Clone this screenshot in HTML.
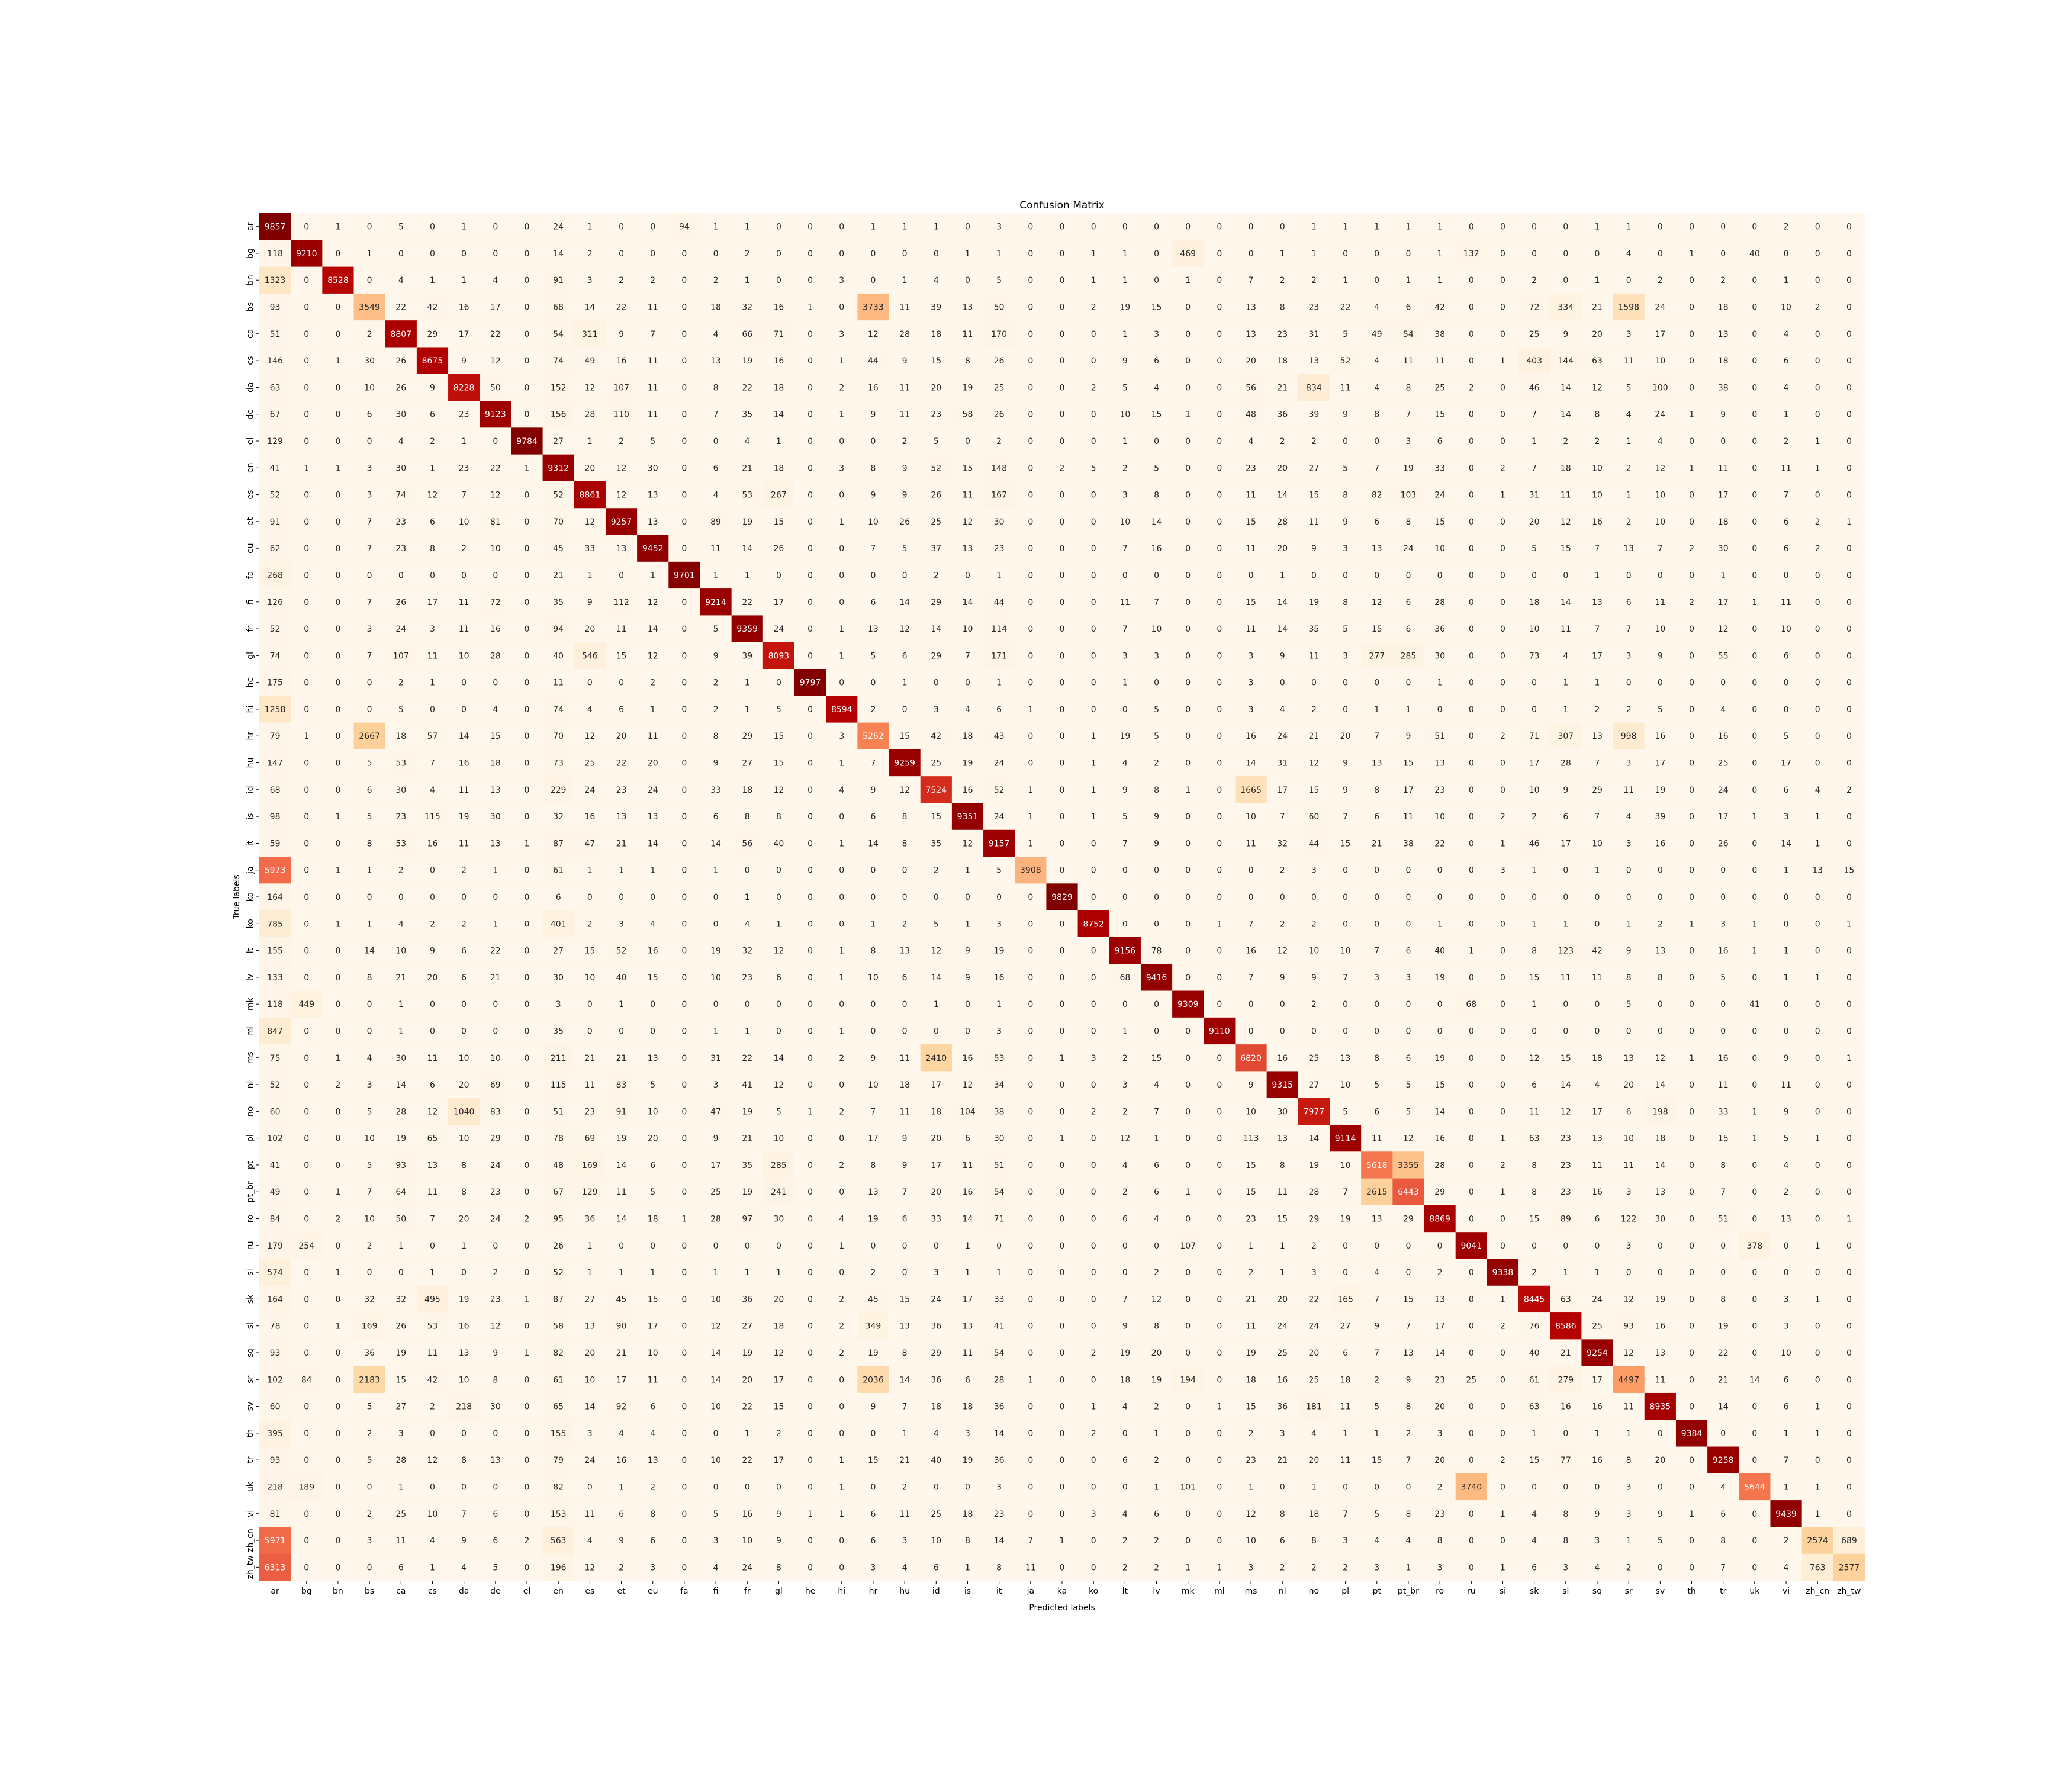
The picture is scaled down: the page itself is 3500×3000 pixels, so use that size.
<!DOCTYPE html>
<html><head><meta charset="utf-8"><style>
html,body{margin:0;padding:0;background:#fff;}
svg{display:block;font-family:"DejaVu Sans","Liberation Sans",sans-serif;}
</style></head><body>
<svg id="chart" width="3500" height="3000" viewBox="0 0 3500 3000" xmlns="http://www.w3.org/2000/svg">
<rect width="3500" height="3000" fill="#fff"/>
<text x="1794" y="352" font-size="17" text-anchor="middle" fill="#000">Confusion Matrix</text>
<text x="1794" y="2720" font-size="14" text-anchor="middle" fill="#000">Predicted labels</text>
<text x="0" y="0" font-size="14" text-anchor="middle" fill="#000" transform="translate(404,1515) rotate(-90)">True labels</text>
<g id="cells"></g><g id="ticks"></g>
</svg>
<script>
const labels=["ar","bg","bn","bs","ca","cs","da","de","el","en","es","et","eu","fa","fi","fr","gl","he","hi","hr","hu","id","is","it","ja","ka","ko","lt","lv","mk","ml","ms","nl","no","pl","pt","pt_br","ro","ru","si","sk","sl","sq","sr","sv","th","tr","uk","vi","zh_cn","zh_tw"];
const rowAr=[9857,0,1,0,5,0,1,0,0,24,1,0,0,94,1,1,0,0,0,1,1,1,0,3,0,0,0,0,0,0,0,0,0,1,1,1,1,1,0,0,0,0,1,1,0,0,0,0,2,0,0];
const rowBg=[118,9210,0,1,0,0,0,0,0,14,2,0,0,0,0,2,0,0,0,0,0,0,1,1,0,0,1,1,0,469,0,0,1,1,0,0,0,1,132,0,0,0,0,4,0,1,0,40,0,0,0];
const rowBn=[1323,0,8528,0,4,1,1,4,0,91,3,2,2,0,2,1,0,0,3,0,1,4,0,5,0,0,1,1,0,1,0,7,2,2,1,0,1,1,0,0,2,0,1,0,2,0,2,0,1,0,0];
const rowBs=[93,0,0,3549,22,42,16,17,0,68,14,22,11,0,18,32,16,1,0,3733,11,39,13,50,0,0,2,19,15,0,0,13,8,23,22,4,6,42,0,0,72,334,21,1598,24,0,18,0,10,2,0];
const rowCa=[51,0,0,2,8807,29,17,22,0,54,311,9,7,0,4,66,71,0,3,12,28,18,11,170,0,0,0,1,3,0,0,13,23,31,5,49,54,38,0,0,25,9,20,3,17,0,13,0,4,0,0];
const rowCs=[146,0,1,30,26,8675,9,12,0,74,49,16,11,0,13,19,16,0,1,44,9,15,8,26,0,0,0,9,6,0,0,20,18,13,52,4,11,11,0,1,403,144,63,11,10,0,18,0,6,0,0];
const rowDa=[63,0,0,10,26,9,8228,50,0,152,12,107,11,0,8,22,18,0,2,16,11,20,19,25,0,0,2,5,4,0,0,56,21,834,11,4,8,25,2,0,46,14,12,5,100,0,38,0,4,0,0];
const rowDe=[67,0,0,6,30,6,23,9123,0,156,28,110,11,0,7,35,14,0,1,9,11,23,58,26,0,0,0,10,15,1,0,48,36,39,9,8,7,15,0,0,7,14,8,4,24,1,9,0,1,0,0];
const rowEl=[129,0,0,0,4,2,1,0,9784,27,1,2,5,0,0,4,1,0,0,0,2,5,0,2,0,0,0,1,0,0,0,4,2,2,0,0,3,6,0,0,1,2,2,1,4,0,0,0,2,1,0];
const rowEn=[41,1,1,3,30,1,23,22,1,9312,20,12,30,0,6,21,18,0,3,8,9,52,15,148,0,2,5,2,5,0,0,23,20,27,5,7,19,33,0,2,7,18,10,2,12,1,11,0,11,1,0];
const rowEs=[52,0,0,3,74,12,7,12,0,52,8861,12,13,0,4,53,267,0,0,9,9,26,11,167,0,0,0,3,8,0,0,11,14,15,8,82,103,24,0,1,31,11,10,1,10,0,17,0,7,0,0];
const rowEt=[91,0,0,7,23,6,10,81,0,70,12,9257,13,0,89,19,15,0,1,10,26,25,12,30,0,0,0,10,14,0,0,15,28,11,9,6,8,15,0,0,20,12,16,2,10,0,18,0,6,2,1];
const rowEu=[62,0,0,7,23,8,2,10,0,45,33,13,9452,0,11,14,26,0,0,7,5,37,13,23,0,0,0,7,16,0,0,11,20,9,3,13,24,10,0,0,5,15,7,13,7,2,30,0,6,2,0];
const rowFa=[268,0,0,0,0,0,0,0,0,21,1,0,1,9701,1,1,0,0,0,0,0,2,0,1,0,0,0,0,0,0,0,0,1,0,0,0,0,0,0,0,0,0,1,0,0,0,1,0,0,0,0];
const rowFi=[126,0,0,7,26,17,11,72,0,35,9,112,12,0,9214,22,17,0,0,6,14,29,14,44,0,0,0,11,7,0,0,15,14,19,8,12,6,28,0,0,18,14,13,6,11,2,17,1,11,0,0];
const rowFr=[52,0,0,3,24,3,11,16,0,94,20,11,14,0,5,9359,24,0,1,13,12,14,10,114,0,0,0,7,10,0,0,11,14,35,5,15,6,36,0,0,10,11,7,7,10,0,12,0,10,0,0];
const rowGl=[74,0,0,7,107,11,10,28,0,40,546,15,12,0,9,39,8093,0,1,5,6,29,7,171,0,0,0,3,3,0,0,3,9,11,3,277,285,30,0,0,73,4,17,3,9,0,55,0,6,0,0];
const rowHe=[175,0,0,0,2,1,0,0,0,11,0,0,2,0,2,1,0,9797,0,0,1,0,0,1,0,0,0,1,0,0,0,3,0,0,0,0,0,1,0,0,0,1,1,0,0,0,0,0,0,0,0];
const rowHi=[1258,0,0,0,5,0,0,4,0,74,4,6,1,0,2,1,5,0,8594,2,0,3,4,6,1,0,0,0,5,0,0,3,4,2,0,1,1,0,0,0,0,1,2,2,5,0,4,0,0,0,0];
const rowHr=[79,1,0,2667,18,57,14,15,0,70,12,20,11,0,8,29,15,0,3,5262,15,42,18,43,0,0,1,19,5,0,0,16,24,21,20,7,9,51,0,2,71,307,13,998,16,0,16,0,5,0,0];
const rowHu=[147,0,0,5,53,7,16,18,0,73,25,22,20,0,9,27,15,0,1,7,9259,25,19,24,0,0,1,4,2,0,0,14,31,12,9,13,15,13,0,0,17,28,7,3,17,0,25,0,17,0,0];
const rowId=[68,0,0,6,30,4,11,13,0,229,24,23,24,0,33,18,12,0,4,9,12,7524,16,52,1,0,1,9,8,1,0,1665,17,15,9,8,17,23,0,0,10,9,29,11,19,0,24,0,6,4,2];
const rowIs=[98,0,1,5,23,115,19,30,0,32,16,13,13,0,6,8,8,0,0,6,8,15,9351,24,1,0,1,5,9,0,0,10,7,60,7,6,11,10,0,2,2,6,7,4,39,0,17,1,3,1,0];
const rowIt=[59,0,0,8,53,16,11,13,1,87,47,21,14,0,14,56,40,0,1,14,8,35,12,9157,1,0,0,7,9,0,0,11,32,44,15,21,38,22,0,1,46,17,10,3,16,0,26,0,14,1,0];
const rowJa=[5973,0,1,1,2,0,2,1,0,61,1,1,1,0,1,0,0,0,0,0,0,2,1,5,3908,0,0,0,0,0,0,0,2,3,0,0,0,0,0,3,1,0,1,0,0,0,0,0,1,13,15];
const rowKa=[164,0,0,0,0,0,0,0,0,6,0,0,0,0,0,1,0,0,0,0,0,0,0,0,0,9829,0,0,0,0,0,0,0,0,0,0,0,0,0,0,0,0,0,0,0,0,0,0,0,0,0];
const rowKo=[785,0,1,1,4,2,2,1,0,401,2,3,4,0,0,4,1,0,0,1,2,5,1,3,0,0,8752,0,0,0,1,7,2,2,0,0,0,1,0,0,1,1,0,1,2,1,3,1,0,0,1];
const rowLt=[155,0,0,14,10,9,6,22,0,27,15,52,16,0,19,32,12,0,1,8,13,12,9,19,0,0,0,9156,78,0,0,16,12,10,10,7,6,40,1,0,8,123,42,9,13,0,16,1,1,0,0];
const rowLv=[133,0,0,8,21,20,6,21,0,30,10,40,15,0,10,23,6,0,1,10,6,14,9,16,0,0,0,68,9416,0,0,7,9,9,7,3,3,19,0,0,15,11,11,8,8,0,5,0,1,1,0];
const rowMk=[118,449,0,0,1,0,0,0,0,3,0,1,0,0,0,0,0,0,0,0,0,1,0,1,0,0,0,0,0,9309,0,0,0,2,0,0,0,0,68,0,1,0,0,5,0,0,0,41,0,0,0];
const rowMl=[847,0,0,0,1,0,0,0,0,35,0,0,0,0,1,1,0,0,1,0,0,0,0,3,0,0,0,1,0,0,9110,0,0,0,0,0,0,0,0,0,0,0,0,0,0,0,0,0,0,0,0];
const rowMs=[75,0,1,4,30,11,10,10,0,211,21,21,13,0,31,22,14,0,2,9,11,2410,16,53,0,1,3,2,15,0,0,6820,16,25,13,8,6,19,0,0,12,15,18,13,12,1,16,0,9,0,1];
const rowNl=[52,0,2,3,14,6,20,69,0,115,11,83,5,0,3,41,12,0,0,10,18,17,12,34,0,0,0,3,4,0,0,9,9315,27,10,5,5,15,0,0,6,14,4,20,14,0,11,0,11,0,0];
const rowNo=[60,0,0,5,28,12,1040,83,0,51,23,91,10,0,47,19,5,1,2,7,11,18,104,38,0,0,2,2,7,0,0,10,30,7977,5,6,5,14,0,0,11,12,17,6,198,0,33,1,9,0,0];
const rowPl=[102,0,0,10,19,65,10,29,0,78,69,19,20,0,9,21,10,0,0,17,9,20,6,30,0,1,0,12,1,0,0,113,13,14,9114,11,12,16,0,1,63,23,13,10,18,0,15,1,5,1,0];
const rowPt=[41,0,0,5,93,13,8,24,0,48,169,14,6,0,17,35,285,0,2,8,9,17,11,51,0,0,0,4,6,0,0,15,8,19,10,5618,3355,28,0,2,8,23,11,11,14,0,8,0,4,0,0];
const rowPtBr=[49,0,1,7,64,11,8,23,0,67,129,11,5,0,25,19,241,0,0,13,7,20,16,54,0,0,0,2,6,1,0,15,11,28,7,2615,6443,29,0,1,8,23,16,3,13,0,7,0,2,0,0];
const rowRo=[84,0,2,10,50,7,20,24,2,95,36,14,18,1,28,97,30,0,4,19,6,33,14,71,0,0,0,6,4,0,0,23,15,29,19,13,29,8869,0,0,15,89,6,122,30,0,51,0,13,0,1];
const rowRu=[179,254,0,2,1,0,1,0,0,26,1,0,0,0,0,0,0,0,1,0,0,0,1,0,0,0,0,0,0,107,0,1,1,2,0,0,0,0,9041,0,0,0,0,3,0,0,0,378,0,1,0];
const rowSi=[574,0,1,0,0,1,0,2,0,52,1,1,1,0,1,1,1,0,0,2,0,3,1,1,0,0,0,0,2,0,0,2,1,3,0,4,0,2,0,9338,2,1,1,0,0,0,0,0,0,0,0];
const rowSk=[164,0,0,32,32,495,19,23,1,87,27,45,15,0,10,36,20,0,2,45,15,24,17,33,0,0,0,7,12,0,0,21,20,22,165,7,15,13,0,1,8445,63,24,12,19,0,8,0,3,1,0];
const rowSl=[78,0,1,169,26,53,16,12,0,58,13,90,17,0,12,27,18,0,2,349,13,36,13,41,0,0,0,9,8,0,0,11,24,24,27,9,7,17,0,2,76,8586,25,93,16,0,19,0,3,0,0];
const rowSq=[93,0,0,36,19,11,13,9,1,82,20,21,10,0,14,19,12,0,2,19,8,29,11,54,0,0,2,19,20,0,0,19,25,20,6,7,13,14,0,0,40,21,9254,12,13,0,22,0,10,0,0];
const rowSr=[102,84,0,2183,15,42,10,8,0,61,10,17,11,0,14,20,17,0,0,2036,14,36,6,28,1,0,0,18,19,194,0,18,16,25,18,2,9,23,25,0,61,279,17,4497,11,0,21,14,6,0,0];
const rowSv=[60,0,0,5,27,2,218,30,0,65,14,92,6,0,10,22,15,0,0,9,7,18,18,36,0,0,1,4,2,0,1,15,36,181,11,5,8,20,0,0,63,16,16,11,8935,0,14,0,6,1,0];
const rowTh=[395,0,0,2,3,0,0,0,0,155,3,4,4,0,0,1,2,0,0,0,1,4,3,14,0,0,2,0,1,0,0,2,3,4,1,1,2,3,0,0,1,0,1,1,0,9384,0,0,1,1,0];
const rowTr=[93,0,0,5,28,12,8,13,0,79,24,16,13,0,10,22,17,0,1,15,21,40,19,36,0,0,0,6,2,0,0,23,21,20,11,15,7,20,0,2,15,77,16,8,20,0,9258,0,7,0,0];
const rowUk=[218,189,0,0,1,0,0,0,0,82,0,1,2,0,0,0,0,0,1,0,2,0,0,3,0,0,0,0,1,101,0,1,0,1,0,0,0,2,3740,0,0,0,0,3,0,0,4,5644,1,1,0];
const rowVi=[81,0,0,2,25,10,7,6,0,153,11,6,8,0,5,16,9,1,1,6,11,25,18,23,0,0,3,4,6,0,0,12,8,18,7,5,8,23,0,1,4,8,9,3,9,1,6,0,9439,1,0];
const rowZhCn=[5971,0,0,3,11,4,9,6,2,563,4,9,6,0,3,10,9,0,0,6,3,10,8,14,7,1,0,2,2,0,0,10,6,8,3,4,4,8,0,0,4,8,3,1,5,0,8,0,2,2574,689];
const rowZhTw=[6313,0,0,0,6,1,4,5,0,196,12,2,3,0,4,24,8,0,0,3,4,6,1,8,11,0,0,2,2,1,1,3,2,2,2,3,1,3,0,1,6,3,4,2,0,0,7,0,4,763,2577];
const matrix=[rowAr,rowBg,rowBn,rowBs,rowCa,rowCs,rowDa,rowDe,rowEl,rowEn,rowEs,rowEt,rowEu,rowFa,rowFi,rowFr,rowGl,rowHe,rowHi,rowHr,rowHu,rowId,rowIs,rowIt,rowJa,rowKa,rowKo,rowLt,rowLv,rowMk,rowMl,rowMs,rowNl,rowNo,rowPl,rowPt,rowPtBr,rowRo,rowRu,rowSi,rowSk,rowSl,rowSq,rowSr,rowSv,rowTh,rowTr,rowUk,rowVi,rowZhCn,rowZhTw];

const NS="http://www.w3.org/2000/svg";
const X0=438,X1=3150,Y0=360,Y1=2670;
const n=labels.length, cw=(X1-X0)/n, ch=(Y1-Y0)/n;
const xScale=i=>X0+i*cw, yScale=i=>Y0+i*ch;
let vmax=0; matrix.forEach(r=>r.forEach(v=>{if(v>vmax)vmax=v;}));
const stops=[[255,247,236],[254,232,200],[253,212,158],[253,187,132],[252,141,89],[239,101,72],[215,48,31],[179,0,0],[127,0,0]];
function cmap(v){let t=Math.max(0,Math.min(1,v/vmax))*(stops.length-1);let i=Math.min(Math.floor(t),stops.length-2);let f=t-i;
 return stops[i].map((c,k)=>Math.round(c+(stops[i+1][k]-c)*f));}
function lum(c){const l=c.map(x=>{x/=255;return x<=0.03928?x/12.92:Math.pow((x+0.055)/1.055,2.4);});return 0.2126*l[0]+0.7152*l[1]+0.0722*l[2];}
const cells=document.getElementById('cells'), ticks=document.getElementById('ticks');
matrix.forEach((row,r)=>{row.forEach((v,c)=>{
 const col=cmap(v);
 const rect=document.createElementNS(NS,'rect');
 rect.setAttribute('x',xScale(c));rect.setAttribute('y',yScale(r));
 rect.setAttribute('width',cw+0.6);rect.setAttribute('height',ch+0.6);
 rect.setAttribute('fill','rgb('+col.join(',')+')');
 
 
 cells.appendChild(rect);
 const t=document.createElementNS(NS,'text');
 t.setAttribute('x',xScale(c)+cw/2);t.setAttribute('y',yScale(r)+ch/2+5);
 t.setAttribute('font-size','14');t.setAttribute('text-anchor','middle');
 t.setAttribute('fill',lum(col)<0.408?'#ffffff':'#262626');
 t.textContent=v;
 
 
 cells.appendChild(t);
});});
labels.forEach((lab,i)=>{
 const cx=xScale(i)+cw/2, cy=yScale(i)+ch/2;
 const tx=document.createElementNS(NS,'line');
 tx.setAttribute('x1',cx);tx.setAttribute('x2',cx);tx.setAttribute('y1',Y1);tx.setAttribute('y2',Y1+5);tx.setAttribute('stroke','#000');
 
 
 ticks.appendChild(tx);
 const lx=document.createElementNS(NS,'text');
 lx.setAttribute('x',cx);lx.setAttribute('y',Y1+22);lx.setAttribute('font-size','14');lx.setAttribute('text-anchor','middle');lx.textContent=lab;
 
 
 ticks.appendChild(lx);
 const ty=document.createElementNS(NS,'line');
 ty.setAttribute('x1',X0-5);ty.setAttribute('x2',X0);ty.setAttribute('y1',cy);ty.setAttribute('y2',cy);ty.setAttribute('stroke','#000');
 
 
 ticks.appendChild(ty);
 const ly=document.createElementNS(NS,'text');
 ly.setAttribute('font-size','14');ly.setAttribute('text-anchor','middle');
 ly.setAttribute('transform','translate('+(X0-11)+','+cy+') rotate(-90)');ly.textContent=lab;
 
 
 ticks.appendChild(ly);
});
</script>
</body></html>
